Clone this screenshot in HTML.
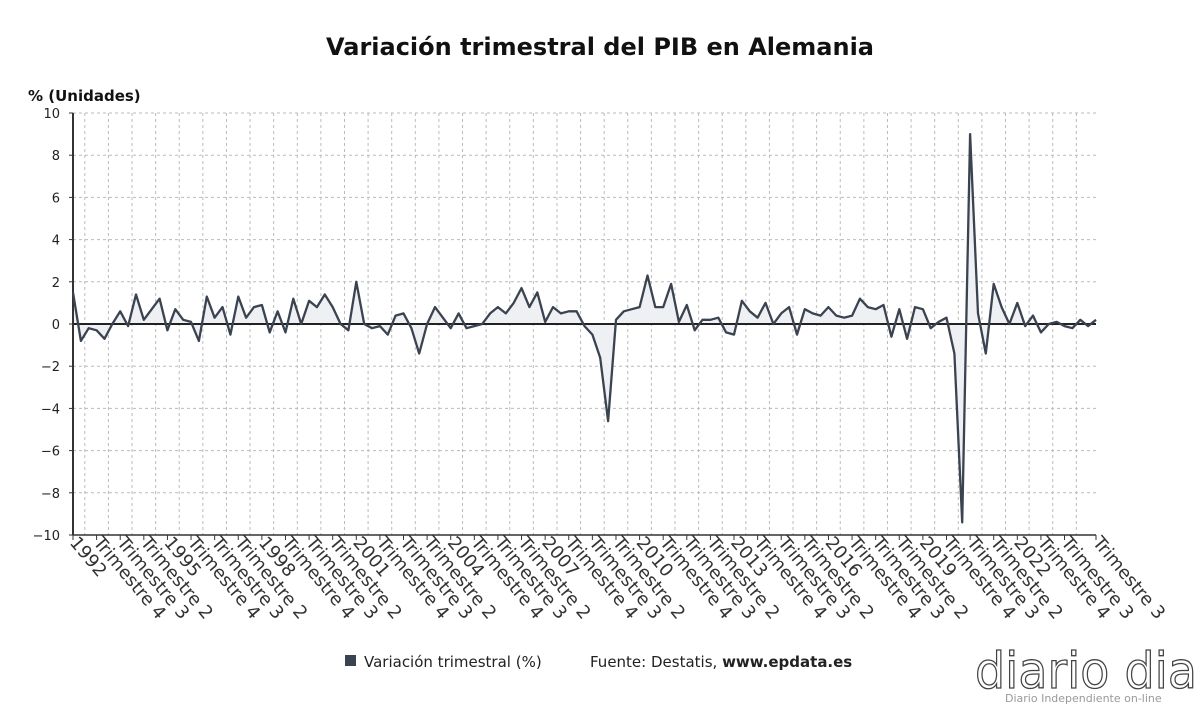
<!DOCTYPE html>
<html><head><meta charset="utf-8"><style>
body{margin:0;background:#fff;width:1200px;height:705px;overflow:hidden;font-family:"Liberation Sans","DejaVu Sans",sans-serif}
</style></head><body>
<svg id="s" width="1200" height="705" xmlns="http://www.w3.org/2000/svg" style="position:absolute;left:0;top:0">
<text x="600" y="55" text-anchor="middle" font-size="24" font-weight="bold" fill="#111" font-family="DejaVu Sans, sans-serif">Variación trimestral del PIB en Alemania</text>
<text x="28" y="101" font-size="15" font-weight="bold" fill="#111" font-family="DejaVu Sans, sans-serif">% (Unidades)</text>
<g id="g"></g>
<rect x="345" y="655" width="11" height="11" fill="#3b4350"/>
<text x="364" y="667" font-size="15" fill="#222" font-family="DejaVu Sans, sans-serif">Variación trimestral (%)</text>
<text x="590" y="667" font-size="15" fill="#222" font-family="DejaVu Sans, sans-serif">Fuente: Destatis, <tspan font-weight="bold">www.epdata.es</tspan></text>
<text x="975" y="688" font-size="50" fill="none" stroke="#444" stroke-width="1.3" font-family="DejaVu Sans, sans-serif" textLength="222" lengthAdjust="spacingAndGlyphs">diario dia</text>
<text x="1005" y="702" font-size="11" fill="#999" font-family="DejaVu Sans, sans-serif">Diario Independiente on-line</text>
</svg>
<script>
var d=[1.5,-0.8,-0.2,-0.3,-0.7,0,0.6,-0.1,1.4,0.2,0.7,1.2,-0.3,0.7,0.2,0.1,-0.8,1.3,0.3,0.8,-0.5,1.3,0.3,0.8,0.9,-0.4,0.6,-0.4,1.2,0,1.1,0.8,1.4,0.8,0,-0.3,2.0,0,-0.2,-0.1,-0.5,0.4,0.5,-0.2,-1.4,0,0.8,0.3,-0.2,0.5,-0.2,-0.1,0,0.5,0.8,0.5,1.0,1.7,0.8,1.5,0.1,0.8,0.5,0.6,0.6,-0.1,-0.5,-1.6,-4.6,0.2,0.6,0.7,0.8,2.3,0.8,0.8,1.9,0.1,0.9,-0.3,0.2,0.2,0.3,-0.4,-0.5,1.1,0.6,0.3,1.0,0,0.5,0.8,-0.5,0.7,0.5,0.4,0.8,0.4,0.3,0.4,1.2,0.8,0.7,0.9,-0.6,0.7,-0.7,0.8,0.7,-0.2,0.1,0.3,-1.4,-9.4,9.0,0.5,-1.4,1.9,0.8,0,1.0,-0.1,0.4,-0.4,0,0.1,-0.1,-0.2,0.2,-0.1,0.2];
var X0=73,X1=1096,n=d.length,dx=(X1-X0)/(n-1);
function X(i){return X0+i*dx}function Y(v){return 324-v*21.1}
var h='';
for(var v=-10;v<=10;v+=2){var y=Y(v);
 if(v!=-10&&v!=0)h+='<line x1="73" x2="1096" y1="'+y+'" y2="'+y+'" stroke="#bbb" stroke-dasharray="3,3"/>';
 h+='<text x="60" y="'+(y+5)+'" text-anchor="end" font-size="13" fill="#222" font-family="DejaVu Sans, sans-serif">'+(v<0?'\u2212'+(-v):v)+'</text>';
 h+='<line x1="69" x2="73" y1="'+y+'" y2="'+y+'" stroke="#333"/>';}
for(var x=X0+dx*1.5;x<X1;x+=dx*3)h+='<line x1="'+x+'" x2="'+x+'" y1="113" y2="535" stroke="#bbb" stroke-dasharray="3,3"/>';
var p='',f='M'+X0+','+Y(0);
for(var i=0;i<n;i++){p+=(i?'L':'M')+X(i).toFixed(1)+','+Y(d[i]).toFixed(1);f+='L'+X(i).toFixed(1)+','+Y(d[i]).toFixed(1);}
f+='L'+X1+','+Y(0)+'Z';
h+='<path d="'+f+'" fill="#eef0f3"/>';
h+='<line x1="73" x2="1096" y1="'+Y(0)+'" y2="'+Y(0)+'" stroke="#222" stroke-width="2"/>';
h+='<line x1="73" x2="1096" y1="535" y2="535" stroke="#333" stroke-width="1.5"/>';
h+='<line x1="73" x2="73" y1="113" y2="535" stroke="#333" stroke-width="2"/>';
h+='<path d="'+p+'" fill="none" stroke="#3b4350" stroke-width="2.3" stroke-linejoin="round"/>';
var lab={3:'Trimestre 4',6:'Trimestre 3',9:'Trimestre 2'};
for(var i=0;i<n;i++){var t=null;
 if(i%3==0&&i<=126){var m=i%12;t=m==0?String(1992+i/4):lab[m];}
 if(i==130)t='Trimestre 3';
 if(t){var x=X(i);h+='<line x1="'+x+'" x2="'+x+'" y1="535" y2="540" stroke="#333"/>';
 h+='<text transform="translate('+(x-4)+',543) rotate(50)" font-size="18" fill="#333" font-family="DejaVu Sans, sans-serif">'+t+'</text>';}}
document.getElementById('g').innerHTML=h;
</script>
</body></html>
